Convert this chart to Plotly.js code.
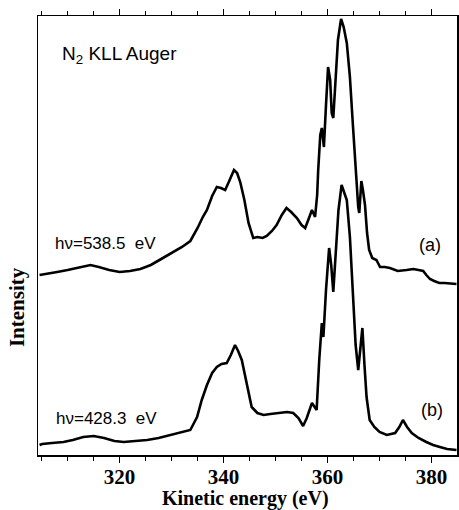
<!DOCTYPE html>
<html>
<head>
<meta charset="utf-8">
<script src="https://cdn.plot.ly/plotly-3.0.1.min.js"></script>
<style>html,body{margin:0;padding:0;background:#fff;}#chart{width:459px;height:510px;}</style>
</head>
<body>
<div id="chart"></div>
<script>
// Kinetic energy (eV) and intensity (arb. units)
const energyA = [304.6,306.0,308.0,310.0,312.0,314.4,316.0,318.0,320.0,322.0,324.0,326.0,328.0,330.0,332.0,333.6,335.0,336.0,336.8,337.8,338.7,339.5,340.3,341.0,342.0,342.6,343.2,344.0,344.8,345.7,346.5,347.5,348.3,349.3,350.2,351.2,352.1,353.0,354.1,355.0,355.7,356.5,357.0,357.6,358.0,358.2,358.6,358.9,359.3,359.7,360.1,360.5,360.8,361.1,361.5,362.0,362.6,363.1,363.7,364.3,364.9,365.5,365.9,366.1,366.5,366.8,367.2,367.6,368.0,368.6,369.4,370.1,371.0,372.0,373.5,375.2,376.5,377.5,378.4,379.0,379.7,380.5,381.5,382.5,384.8];
const intensityA = [180,181,183,185,187,190,188,185,183,184,186,190,196,202,208,214,227,238,245,259,268,267,265,273,285,282,273,255,232,217,218,217,219,224,230,240,247,243,237,230,227,238,245,238,260,285,320,327,308,350,388,375,342,337,370,415,436,428,412,378,328,278,248,242,274,265,250,222,205,197,195,188,188,187,184,185,186,185,184,180,176,174,172,172,171];

const energyB = [304.6,305.1,307.0,309.2,311.0,313.0,315.0,317.0,319.0,320.8,323.0,325.3,327.5,329.7,331.5,333.6,334.9,335.8,336.8,337.8,338.7,339.6,340.6,341.4,342.2,342.8,343.5,344.5,345.4,346.5,347.7,349.0,350.9,352.2,353.4,354.4,355.3,356.0,357.0,357.5,357.9,358.4,358.9,359.2,359.7,360.3,360.7,361.1,361.6,362.1,362.7,363.2,363.7,364.3,364.9,365.4,365.9,366.3,366.7,367.1,367.5,368.1,369.0,370.0,371.4,373.0,373.8,374.5,375.3,376.2,377.5,379.0,380.3,381.6,383.0,384.8];
const intensityB = [10,11,12,13,15,18,19,17,14,13,14,15,17,20,22,25,38,55,70,82,88,91,92,100,110,104,95,70,48,42,40,41,42,43,42,37,29,37,52,48,45,95,132,118,165,207,190,163,200,245,270,262,255,218,152,110,85,105,127,90,58,35,28,23,20,22,28,35,28,22,17,13,10,8,6,5];

const xTickVals = [320,340,360,380];
const xRange = [304.3, 384.9];
const yRange = [0, 439];

const serif = "Liberation Serif, Times New Roman, serif";
const sans = "Liberation Sans, Arial, Helvetica, sans-serif";

const traces = [
  {x: energyA, y: intensityA, type: 'scatter', mode: 'lines', line: {color: '#000', width: 2.6}, hoverinfo: 'skip'},
  {x: energyB, y: intensityB, type: 'scatter', mode: 'lines', line: {color: '#000', width: 2.6}, hoverinfo: 'skip'}
];

const layout = {
  width: 459, height: 510,
  margin: {l: 38, r: 2, t: 16, b: 55},
  paper_bgcolor: '#fff', plot_bgcolor: '#fff',
  showlegend: false,
  xaxis: {
    range: xRange, tickvals: xTickVals, ticktext: xTickVals.map(String),
    ticks: 'outside', ticklen: 6, tickwidth: 1.2, tickcolor: '#000',
    ticklabelstandoff: -4,
    minor: {dtick: 5, tick0: 0, ticks: 'outside', ticklen: 4, tickwidth: 1, tickcolor: '#000', showgrid: false},
    showline: true, linecolor: '#000', linewidth: 1.5, mirror: 'ticks',
    showgrid: false, zeroline: false,
    tickfont: {family: serif, size: 21, color: '#000', weight: 'bold'}
  },
  yaxis: {
    range: yRange, showticklabels: false, ticks: '',
    showline: true, linecolor: '#000', linewidth: 1.5, mirror: true,
    showgrid: false, zeroline: false
  },
  annotations: [
    {xref: 'paper', yref: 'paper', x: 0.496, y: -0.0991, text: 'Kinetic energy (eV)', showarrow: false,
     font: {family: serif, size: 20, color: '#000', weight: 'bold'}, xanchor: 'center', yanchor: 'middle'},
    {xref: 'paper', yref: 'paper', x: -0.05, y: 0.337, text: 'Intensity', textangle: -90, showarrow: false,
     font: {family: serif, size: 21, color: '#000', weight: 'bold'}, xanchor: 'center', yanchor: 'middle'},
    {x: 308.6, y: 400, text: 'N<sub>2</sub> KLL Auger', showarrow: false, xanchor: 'left', yanchor: 'middle',
     font: {family: sans, size: 19, color: '#000'}},
    {x: 307.1, y: 212, text: 'hν=538.5\u00a0\u00a0eV', showarrow: false, xanchor: 'left', yanchor: 'middle',
     font: {family: sans, size: 17, color: '#000'}},
    {x: 307.3, y: 37, text: 'hν=428.3\u00a0\u00a0eV', showarrow: false, xanchor: 'left', yanchor: 'middle',
     font: {family: sans, size: 17, color: '#000'}},
    {x: 379.7, y: 210, text: '(a)', showarrow: false, xanchor: 'center', yanchor: 'middle',
     font: {family: sans, size: 18, color: '#000'}},
    {x: 380.1, y: 45, text: '(b)', showarrow: false, xanchor: 'center', yanchor: 'middle',
     font: {family: sans, size: 18, color: '#000'}}
  ]
};

Plotly.newPlot('chart', traces, layout, {staticPlot: true, displayModeBar: false});
</script>
</body>
</html>
